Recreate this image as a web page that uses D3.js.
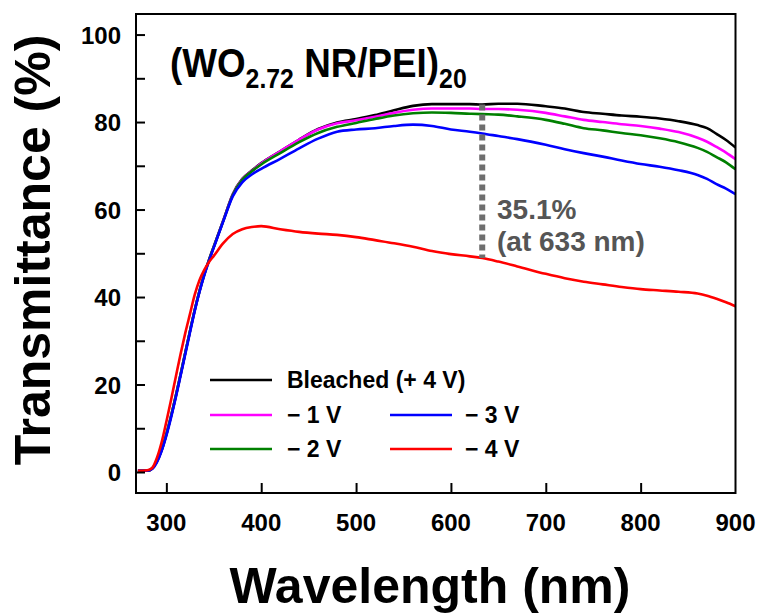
<!DOCTYPE html>
<html>
<head>
<meta charset="utf-8">
<script src="https://cdn.jsdelivr.net/npm/d3@7"></script>
<style>
  body { margin: 0; background: #fff; }
  svg { display: block; font-family: "Liberation Sans", Arial, sans-serif; }
</style>
</head>
<body>
<svg id="chart" width="761" height="615"></svg>
<script>
// Wavelength grid (nm) shared by all spectra
const wavelengths = [270, 275, 280, 285, 290, 295, 300, 305, 310, 315, 320, 325, 330, 335, 340, 345, 350, 360, 370, 380,
  390, 400, 420, 440, 460, 480, 500, 520, 540, 560, 580, 600, 620, 633, 650, 670, 700, 720, 740, 760,
  780, 800, 820, 840, 860, 870, 880, 890, 900];

// Transmittance (%) at each applied voltage
const bleached = [0.3, 0.3, 0.3, 0.8, 2.4, 5.0, 8.6, 12.8, 17.4, 22.3, 27.3, 32.3, 37.1, 41.4, 45.2, 48.5, 51.5, 57.5, 63.5, 67.0,
  68.9, 70.6, 73.3, 76.0, 78.4, 79.9, 80.7, 81.6, 82.7, 83.7, 84.1, 84.1, 84.1, 84.0, 84.2, 84.2, 83.6, 83.1, 82.3, 81.9,
  81.5, 81.2, 80.8, 80.2, 79.3, 78.6, 77.3, 75.9, 74.2];
const minus1V = [0.3, 0.3, 0.3, 0.8, 2.4, 5.0, 8.6, 12.8, 17.4, 22.3, 27.3, 32.3, 37.1, 41.4, 45.2, 48.5, 51.5, 57.5, 63.4, 66.9,
  68.8, 70.5, 73.3, 76.0, 78.3, 79.7, 80.4, 81.2, 82.1, 82.8, 83.1, 83.1, 83.1, 83.0, 83.0, 82.8, 82.1, 81.3, 80.5, 80.0,
  79.5, 79.1, 78.5, 77.7, 76.4, 75.5, 74.3, 73.0, 71.5];
const minus2V = [0.3, 0.3, 0.3, 0.8, 2.4, 5.0, 8.6, 12.8, 17.4, 22.3, 27.3, 32.3, 37.1, 41.4, 45.2, 48.5, 51.5, 57.4, 63.3, 66.8,
  68.7, 70.3, 72.9, 75.4, 77.5, 78.9, 79.8, 80.7, 81.5, 82.0, 82.2, 82.1, 81.9, 81.8, 81.7, 81.3, 80.5, 79.6, 78.6, 78.1,
  77.5, 77.0, 76.3, 75.4, 74.1, 73.2, 72.0, 70.8, 69.2];
const minus3V = [0.3, 0.3, 0.3, 0.7, 2.2, 4.8, 8.3, 12.5, 17.1, 22.0, 27.0, 32.0, 36.9, 41.2, 45.0, 48.3, 51.3, 57.3, 63.0, 66.2,
  68.0, 69.3, 71.6, 74.0, 76.2, 77.8, 78.3, 78.6, 79.1, 79.4, 79.1, 78.3, 77.8, 77.4, 76.8, 76.1, 74.8, 73.8, 72.9, 72.1,
  71.2, 70.4, 69.8, 69.0, 67.9, 67.0, 65.8, 64.8, 63.5];
const minus4V = [0.3, 0.3, 0.4, 0.9, 3.2, 6.8, 11.5, 16.5, 21.8, 27.0, 31.8, 36.2, 40.6, 43.9, 46.2, 48.0, 49.4, 52.3, 54.4, 55.5,
  56.0, 56.2, 55.5, 54.9, 54.5, 54.2, 53.7, 53.0, 52.3, 51.5, 50.5, 49.8, 49.3, 48.9, 48.1, 47.0, 45.3, 44.3, 43.5, 42.9,
  42.3, 41.8, 41.5, 41.2, 40.8, 40.3, 39.6, 38.8, 37.9];

const seriesNames = ["Bleached (+ 4 V)", "\u2212 1 V", "\u2212 2 V", "\u2212 3 V", "\u2212 4 V"];
const seriesValues = [bleached, minus1V, minus2V, minus3V, minus4V];
const seriesColors = ["#000000", "#ff00ff", "#008000", "#0000ff", "#ff0000"];

const xTicks = [300, 400, 500, 600, 700, 800, 900];
const yTicks = [0, 10, 20, 30, 40, 50, 60, 70, 80, 90, 100];
const yTickLabels = [0, 20, 40, 60, 80, 100];

const markWavelength = 633;
const modulationLabel = ["35.1%", "(at 633 nm)"];

// Layout
const plotLeft = 136, plotRight = 735.5, plotTop = 14, plotBottom = 493;
const svg = d3.select("#chart");

const x = d3.scaleLinear().domain([268, 900]).range([plotLeft, plotRight]);
const y = d3.scaleLinear().domain([-4.8, 104.7]).range([plotBottom, plotTop]);

svg.append("defs").append("clipPath").attr("id", "plot-clip")
  .append("rect").attr("x", plotLeft).attr("y", plotTop)
  .attr("width", plotRight - plotLeft).attr("height", plotBottom - plotTop);

// Spectra
const line = d3.line()
  .x((d, i) => x(wavelengths[i]))
  .y(d => y(d))
  .curve(d3.curveMonotoneX);

const plot = svg.append("g").attr("clip-path", "url(#plot-clip)");
seriesValues.forEach((vals, k) => {
  plot.append("path")
    .attr("d", line(vals))
    .attr("fill", "none")
    .attr("stroke", seriesColors[k])
    .attr("stroke-width", 2.6)
    .attr("stroke-linejoin", "round");
});

// Dotted marker for modulation at 633 nm
const mi = wavelengths.indexOf(markWavelength);
svg.append("line")
  .attr("x1", x(markWavelength)).attr("x2", x(markWavelength))
  .attr("y1", y(bleached[mi])).attr("y2", y(minus4V[mi]))
  .attr("stroke", "#6e6e6e")
  .attr("stroke-width", 6)
  .attr("stroke-dasharray", "6,4");

const ann = svg.append("g").attr("fill", "#555555").attr("font-weight", "bold").attr("font-size", 28);
ann.append("text").attr("x", 497).attr("y", 219).text(modulationLabel[0]);
ann.append("text").attr("x", 497).attr("y", 251).text(modulationLabel[1]);

// Axes (ticks pointing inward)
const yAxis = d3.axisRight(y).tickValues(yTicks).tickSize(9).tickFormat("");
svg.append("g").attr("transform", `translate(${plotLeft},0)`).call(yAxis)
  .call(g => g.select(".domain").remove())
  .selectAll("line").attr("stroke", "#000").attr("stroke-width", 2);

const xAxis = d3.axisTop(x).tickValues(xTicks.filter(t => t < 900)).tickSize(10).tickFormat("");
svg.append("g").attr("transform", `translate(0,${plotBottom})`).call(xAxis)
  .call(g => g.select(".domain").remove())
  .selectAll("line").attr("stroke", "#000").attr("stroke-width", 2);

// Frame
svg.append("rect")
  .attr("x", plotLeft).attr("y", plotTop)
  .attr("width", plotRight - plotLeft).attr("height", plotBottom - plotTop)
  .attr("fill", "none").attr("stroke", "#000").attr("stroke-width", 2);

// Tick labels
svg.append("g").selectAll("text").data(yTickLabels).join("text")
  .attr("x", 121).attr("y", d => y(d) + 9)
  .attr("text-anchor", "end")
  .attr("font-size", 24).attr("font-weight", "bold")
  .text(d => d);

svg.append("g").selectAll("text").data(xTicks).join("text")
  .attr("x", d => x(d)).attr("y", 531)
  .attr("text-anchor", "middle")
  .attr("font-size", 24).attr("font-weight", "bold")
  .text(d => d);

// Axis titles
svg.append("text")
  .attr("x", 430).attr("y", 603)
  .attr("text-anchor", "middle")
  .attr("font-size", 50).attr("font-weight", "bold")
  .text("Wavelength (nm)");

svg.append("text")
  .attr("transform", "translate(50,250) rotate(-90)")
  .attr("text-anchor", "middle")
  .attr("font-size", 50).attr("font-weight", "bold")
  .text("Transmittance (%)");

// Sample label (slightly condensed bold face)
const title = svg.append("text")
  .attr("transform", "translate(170,77) scale(0.92,1)")
  .attr("font-size", 40).attr("font-weight", "bold");
title.append("tspan").text("(WO");
title.append("tspan").attr("font-size", 27).attr("dy", 11).text("2.72");
title.append("tspan").attr("dy", -11).text(" NR/PEI)");
title.append("tspan").attr("font-size", 27).attr("dy", 11).text("20");

// Legend
const legendItems = [
  { i: 0, lx: 210, tx: 287, ly: 380 },
  { i: 1, lx: 210, tx: 287, ly: 415 },
  { i: 2, lx: 210, tx: 287, ly: 449 },
  { i: 3, lx: 390, tx: 465, ly: 415 },
  { i: 4, lx: 390, tx: 465, ly: 449 }
];
const legend = svg.append("g");
legendItems.forEach(d => {
  legend.append("line")
    .attr("x1", d.lx).attr("x2", d.lx + 62)
    .attr("y1", d.ly).attr("y2", d.ly)
    .attr("stroke", seriesColors[d.i]).attr("stroke-width", 2.6);
  legend.append("text")
    .attr("x", d.tx).attr("y", d.ly + 8)
    .attr("font-size", 23).attr("font-weight", "bold")
    .text(seriesNames[d.i]);
});
</script>
</body>
</html>
